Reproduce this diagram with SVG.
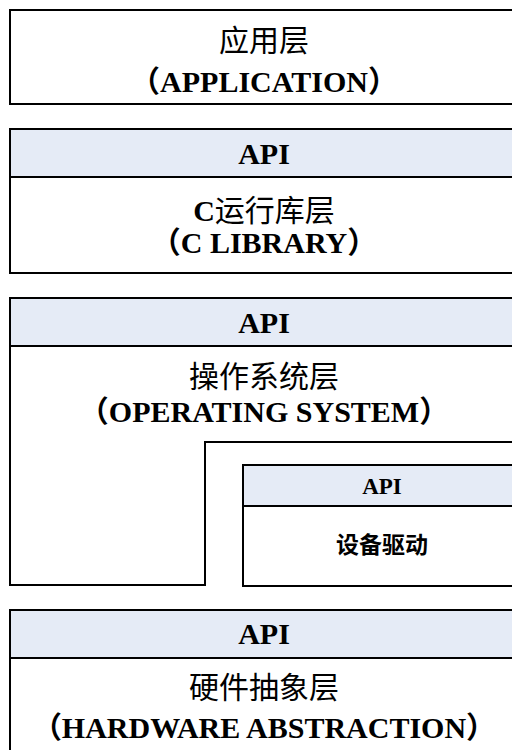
<svg xmlns="http://www.w3.org/2000/svg" width="512" height="750" viewBox="0 0 512 750">
<style>
.box{fill:#fff;stroke:#000;stroke-width:2}
.band{fill:#E5EBF6;stroke:#000;stroke-width:2}
.en{font-family:"Liberation Serif","Noto Sans CJK SC",serif;font-weight:bold;font-size:30px;text-anchor:middle;fill:#000}
.cn{font-family:"Noto Sans CJK SC","Liberation Sans",sans-serif;font-size:30px;text-anchor:middle;fill:#000}
.lat{font-family:"Liberation Serif",serif;font-weight:bold}
.sm{font-size:23px}
</style>
<rect width="512" height="750" fill="#fff"/>
<g id="app">
<rect class="box" x="10" y="10" width="510" height="94"/>
<text class="cn" x="264" y="51">应用层</text>
<text class="en" x="264" y="92">（APPLICATION）</text>
</g>
<g id="clib">
<rect class="box" x="10" y="129" width="510" height="144"/>
<rect class="band" x="10" y="129" width="510" height="48"/>
<text class="en" x="264" y="164">API</text>
<text class="cn" x="264" y="221"><tspan class="lat">C</tspan>运行库层</text>
<text class="en" x="264" y="253">（C LIBRARY）</text>
</g>
<g id="os">
<path class="box" d="M10,298 H520 V442 H205 V585 H10 Z"/>
<rect class="band" x="10" y="298" width="510" height="48"/>
<text class="en" x="264" y="333">API</text>
<text class="cn" x="264" y="387">操作系统层</text>
<text class="en" x="264" y="422">（OPERATING SYSTEM）</text>
</g>
<g id="driver">
<rect class="box" x="243" y="465" width="277" height="121"/>
<rect class="band" x="243" y="465" width="277" height="41"/>
<text class="en sm" x="382" y="494">API</text>
<text class="cn sm" x="382" y="553" font-weight="bold">设备驱动</text>
</g>
<g id="hal">
<rect class="box" x="10" y="610" width="510" height="150"/>
<rect class="band" x="10" y="610" width="510" height="48"/>
<text class="en" x="264" y="644">API</text>
<text class="cn" x="264" y="698">硬件抽象层</text>
<text class="en" x="264" y="738">（HARDWARE ABSTRACTION）</text>
</g>
</svg>
